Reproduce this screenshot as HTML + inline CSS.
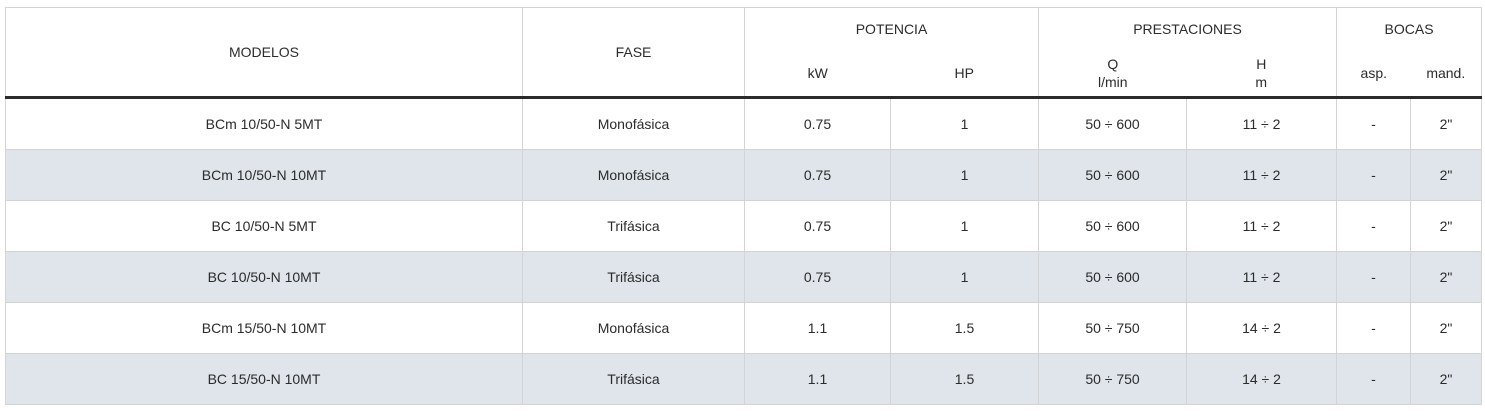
<!DOCTYPE html>
<html><head><meta charset="utf-8">
<style>
html,body{margin:0;padding:0;background:#fff;width:1485px;height:417px;overflow:hidden;}
body{font-family:"Liberation Sans","DejaVu Sans",sans-serif;color:#2b2b2b;font-size:14px;}
table{position:absolute;left:5px;top:7px;width:1476px;border-collapse:collapse;table-layout:fixed;}
td,th{font-weight:normal;text-align:center;vertical-align:middle;border-left:1px solid #d4d4d4;border-right:1px solid #d4d4d4;padding:0;}
thead tr.r1 th{height:41px;border-top:1px solid #d4d4d4;}
thead tr.r2 th{height:47px;line-height:18px;}
thead tr.r2 th{border-bottom:3px solid #2b2b2b;}
thead th.tall{border-bottom:3px solid #2b2b2b;}
tbody td{height:50px;border-bottom:1px solid #d4d4d4;}
tbody tr.alt td{background:#dfe5ea;}
</style></head><body>
<table>
<colgroup><col style="width:517px"><col style="width:222px"><col style="width:146px"><col style="width:148px"><col style="width:148px"><col style="width:150px"><col style="width:74px"><col style="width:71px"></colgroup>
<thead>
<tr class="r1">
<th rowspan="2" class="tall">MODELOS</th>
<th rowspan="2" class="tall">FASE</th>
<th colspan="2">POTENCIA</th>
<th colspan="2">PRESTACIONES</th>
<th colspan="2">BOCAS</th>
</tr>
<tr class="r2">
<th style="border-right:none">kW</th>
<th style="border-left:none">HP</th>
<th style="border-right:none">Q<br>l/min</th>
<th style="border-left:none">H<br>m</th>
<th style="border-right:none">asp.</th>
<th style="border-left:none">mand.</th>
</tr>
</thead>
<tbody>
<tr><td>BCm 10/50-N 5MT</td><td>Monofásica</td><td>0.75</td><td>1</td><td>50 ÷ 600</td><td>11 ÷ 2</td><td>-</td><td>2"</td></tr>
<tr class="alt"><td>BCm 10/50-N 10MT</td><td>Monofásica</td><td>0.75</td><td>1</td><td>50 ÷ 600</td><td>11 ÷ 2</td><td>-</td><td>2"</td></tr>
<tr><td>BC 10/50-N 5MT</td><td>Trifásica</td><td>0.75</td><td>1</td><td>50 ÷ 600</td><td>11 ÷ 2</td><td>-</td><td>2"</td></tr>
<tr class="alt"><td>BC 10/50-N 10MT</td><td>Trifásica</td><td>0.75</td><td>1</td><td>50 ÷ 600</td><td>11 ÷ 2</td><td>-</td><td>2"</td></tr>
<tr><td>BCm 15/50-N 10MT</td><td>Monofásica</td><td>1.1</td><td>1.5</td><td>50 ÷ 750</td><td>14 ÷ 2</td><td>-</td><td>2"</td></tr>
<tr class="alt"><td>BC 15/50-N 10MT</td><td>Trifásica</td><td>1.1</td><td>1.5</td><td>50 ÷ 750</td><td>14 ÷ 2</td><td>-</td><td>2"</td></tr>
</tbody>
</table>
</body></html>
